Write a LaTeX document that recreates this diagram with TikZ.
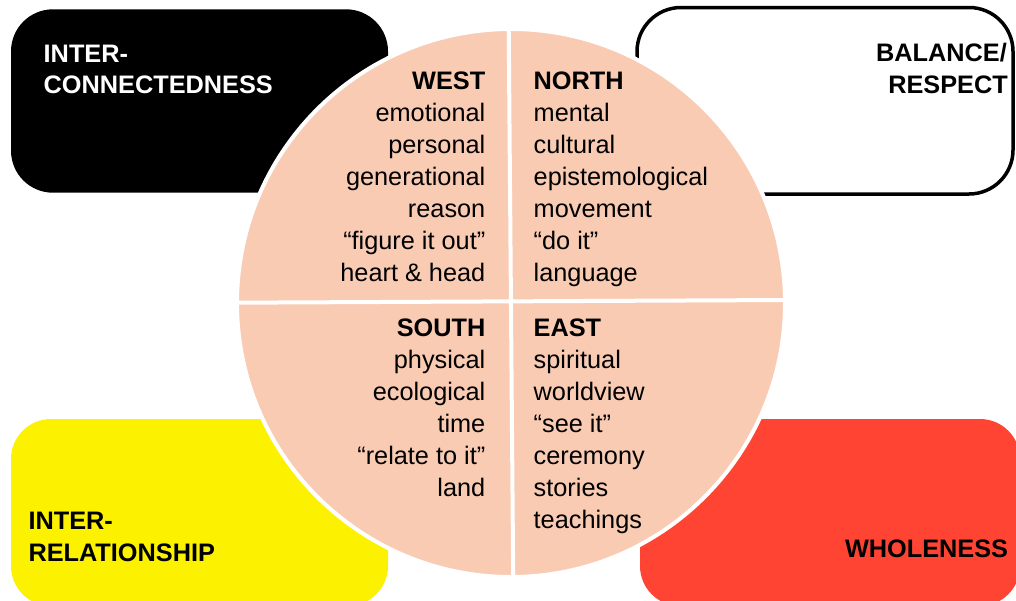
\documentclass[tikz,border=0pt]{standalone}
\usepackage{fontspec}
\setmainfont{Liberation Sans}
\definecolor{peach}{RGB}{249,203,179}
\definecolor{boxyellow}{RGB}{252,242,0}
\definecolor{boxred}{RGB}{255,68,51}
\begin{document}
\begin{tikzpicture}[x=1pt,y=-1pt,
  txt/.style={font=\fontsize{25.3}{30}\selectfont, inner sep=0pt},
  hd/.style={font=\fontsize{25.3}{30}\selectfont\bfseries, inner sep=0pt},
  wr/.style={anchor=base east},
  el/.style={anchor=base west},
  divider/.style={white, line width=4pt}]
\useasboundingbox (0,0) rectangle (1016,600);
\begin{scope}
\clip (0,0) rectangle (1016,600);
% corner boxes
\fill[black, rounded corners=42pt] (11,9.3) rectangle (388,192.7);
\draw[black, fill=white, line width=3.5pt, rounded corners=44pt] (637,7.5) rectangle (1013,194);
\fill[boxyellow, rounded corners=40pt] (11,419) rectangle (388,606);
\fill[boxred, rounded corners=40pt] (640,419) rectangle (1020,606);
% wheel
\node[circle, fill=peach, draw=white, line width=4pt, minimum size=548pt, inner sep=0pt] (wheel) at (511,303) {};
\coordinate (vt) at (508.7,27);
\coordinate (vb) at (513.2,579);
\coordinate (hl) at (236,302.7);
\coordinate (hr) at (786,300);
\draw[divider] (vt) -- (vb);
\draw[divider] (hl) -- (hr);
\end{scope}
% corner labels
\node[hd, el, white] (ic1) at (43.5,62.3) {INTER-};
\node[hd, el, white] (ic2) at (43.5,93.3) {CONNECTEDNESS};
\node[hd, wr] (br1) at (1007,61.7) {BALANCE/};
\node[hd, wr] (br2) at (1008,93.3) {RESPECT};
\node[hd, el] (ir1) at (28.3,529.5) {INTER-};
\node[hd, el] (ir2) at (28.3,561.5) {RELATIONSHIP};
\node[hd, wr] (wh) at (1008.3,557.7) {WHOLENESS};
% WEST
\node[hd, wr] (w0) at (485.5,89.5) {WEST};
\node[txt, wr] (w1) at (485.5,121.5) {emotional};
\node[txt, wr] (w2) at (485.5,153.5) {personal};
\node[txt, wr] (w3) at (485.5,185.5) {generational};
\node[txt, wr] (w4) at (485.5,217.5) {reason};
\node[txt, wr] (w5) at (485.5,249.5) {“figure it out”};
\node[txt, wr] (w6) at (485.5,281.5) {heart \& head};
% NORTH
\node[hd, el] (n0) at (533.5,89.5) {NORTH};
\node[txt, el] (n1) at (533.5,121.5) {mental};
\node[txt, el] (n2) at (533.5,153.5) {cultural};
\node[txt, el] (n3) at (533.5,185.5) {epistemological};
\node[txt, el] (n4) at (533.5,217.5) {movement};
\node[txt, el] (n5) at (533.5,249.5) {“do it”};
\node[txt, el] (n6) at (533.5,281.5) {language};
% SOUTH
\node[hd, wr] (s0) at (485.5,336.5) {SOUTH};
\node[txt, wr] (s1) at (485.5,368.5) {physical};
\node[txt, wr] (s2) at (485.5,400.5) {ecological};
\node[txt, wr] (s3) at (485.5,432.5) {time};
\node[txt, wr] (s4) at (485.5,464.5) {“relate to it”};
\node[txt, wr] (s5) at (485.5,496.5) {land};
% EAST
\node[hd, el] (e0) at (533.5,336.5) {EAST};
\node[txt, el] (e1) at (533.5,368.5) {spiritual};
\node[txt, el] (e2) at (533.5,400.5) {worldview};
\node[txt, el] (e3) at (533.5,432.5) {“see it”};
\node[txt, el] (e4) at (533.5,464.5) {ceremony};
\node[txt, el] (e5) at (533.5,496.5) {stories};
\node[txt, el] (e6) at (533.5,528.5) {teachings};
\end{tikzpicture}
\end{document}
